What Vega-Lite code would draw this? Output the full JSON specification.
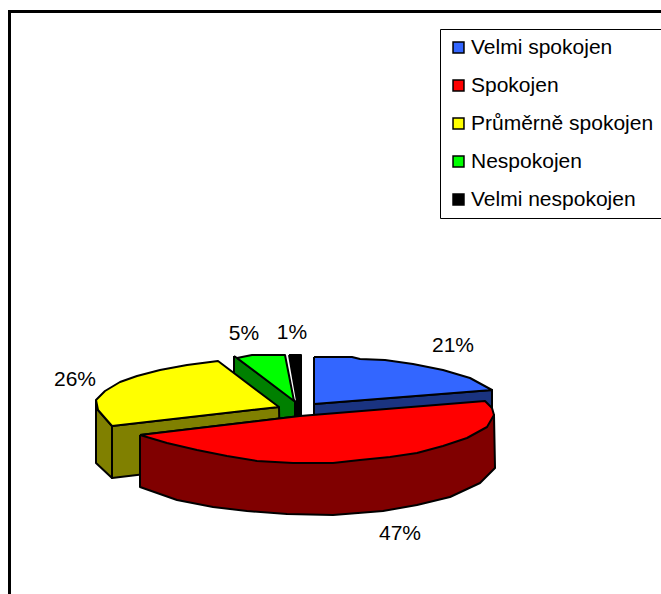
{"$schema":"https://vega.github.io/schema/vega-lite/v6.json","width":661,"height":594,"padding":0,"autosize":"none","background":"white","config":{"view":{"stroke":null},"axis":{"disable":true}},
"datasets":{
"frame":[{"seq":1,"x":9.5,"y":594},{"seq":2,"x":9.5,"y":11.5},{"seq":3,"x":661,"y":11.5}],
"labels":[{"slice":"Velmi spokojen","share":0.21,"x":453,"y":346},{"slice":"Spokojen","share":0.47,"x":400,"y":534},{"slice":"Průměrně spokojen","share":0.26,"x":75,"y":380},{"slice":"Nespokojen","share":0.05,"x":244,"y":334},{"slice":"Velmi nespokojen","share":0.01,"x":292,"y":333}],
"outline":[
{"slice":"Velmi nespokojen","face":"k-side","kind":"side","seq":1,"x":297,"y":401},{"slice":"Velmi nespokojen","face":"k-side","kind":"side","seq":2,"x":301,"y":401},{"slice":"Velmi nespokojen","face":"k-side","kind":"side","seq":3,"x":301,"y":417},{"slice":"Velmi nespokojen","face":"k-side","kind":"side","seq":4,"x":297,"y":417},{"slice":"Velmi nespokojen","face":"k-side","kind":"side","seq":5,"x":297,"y":401},
{"slice":"Nespokojen","face":"g-side","kind":"side","seq":1,"x":234,"y":356},{"slice":"Nespokojen","face":"g-side","kind":"side","seq":2,"x":237,"y":358},{"slice":"Nespokojen","face":"g-side","kind":"side","seq":3,"x":295,"y":401},{"slice":"Nespokojen","face":"g-side","kind":"side","seq":4,"x":295,"y":450},{"slice":"Nespokojen","face":"g-side","kind":"side","seq":5,"x":234,"y":410},{"slice":"Nespokojen","face":"g-side","kind":"side","seq":6,"x":234,"y":356},
{"slice":"Průměrně spokojen","face":"y-outer","kind":"side","seq":1,"x":96,"y":400},{"slice":"Průměrně spokojen","face":"y-outer","kind":"side","seq":2,"x":98,"y":410},{"slice":"Průměrně spokojen","face":"y-outer","kind":"side","seq":3,"x":112,"y":426},{"slice":"Průměrně spokojen","face":"y-outer","kind":"side","seq":4,"x":112,"y":478},{"slice":"Průměrně spokojen","face":"y-outer","kind":"side","seq":5,"x":96,"y":463},{"slice":"Průměrně spokojen","face":"y-outer","kind":"side","seq":6,"x":96,"y":400},
{"slice":"Průměrně spokojen","face":"y-cut","kind":"side","seq":1,"x":112,"y":426},{"slice":"Průměrně spokojen","face":"y-cut","kind":"side","seq":2,"x":279,"y":407},{"slice":"Průměrně spokojen","face":"y-cut","kind":"side","seq":3,"x":280,"y":458},{"slice":"Průměrně spokojen","face":"y-cut","kind":"side","seq":4,"x":112,"y":478},{"slice":"Průměrně spokojen","face":"y-cut","kind":"side","seq":5,"x":112,"y":426},
{"slice":"Velmi spokojen","face":"b-side","kind":"side","seq":1,"x":314,"y":404},{"slice":"Velmi spokojen","face":"b-side","kind":"side","seq":2,"x":492,"y":390},{"slice":"Velmi spokojen","face":"b-side","kind":"side","seq":3,"x":492,"y":440},{"slice":"Velmi spokojen","face":"b-side","kind":"side","seq":4,"x":314,"y":456},{"slice":"Velmi spokojen","face":"b-side","kind":"side","seq":5,"x":314,"y":404},
{"slice":"Spokojen","face":"r-side","kind":"side","seq":1,"x":140,"y":435},{"slice":"Spokojen","face":"r-side","kind":"side","seq":2,"x":300,"y":416},{"slice":"Spokojen","face":"r-side","kind":"side","seq":3,"x":494,"y":415},{"slice":"Spokojen","face":"r-side","kind":"side","seq":4,"x":495,"y":468},{"slice":"Spokojen","face":"r-side","kind":"side","seq":5,"x":480,"y":483},{"slice":"Spokojen","face":"r-side","kind":"side","seq":6,"x":450,"y":497},{"slice":"Spokojen","face":"r-side","kind":"side","seq":7,"x":417,"y":505},{"slice":"Spokojen","face":"r-side","kind":"side","seq":8,"x":383,"y":511},{"slice":"Spokojen","face":"r-side","kind":"side","seq":9,"x":333,"y":515},{"slice":"Spokojen","face":"r-side","kind":"side","seq":10,"x":287,"y":514},{"slice":"Spokojen","face":"r-side","kind":"side","seq":11,"x":247,"y":511},{"slice":"Spokojen","face":"r-side","kind":"side","seq":12,"x":213,"y":507},{"slice":"Spokojen","face":"r-side","kind":"side","seq":13,"x":177,"y":500},{"slice":"Spokojen","face":"r-side","kind":"side","seq":14,"x":140,"y":487},{"slice":"Spokojen","face":"r-side","kind":"side","seq":15,"x":140,"y":435},
{"slice":"Velmi nespokojen","face":"k-top","kind":"top","seq":1,"x":289,"y":355},{"slice":"Velmi nespokojen","face":"k-top","kind":"top","seq":2,"x":301,"y":355},{"slice":"Velmi nespokojen","face":"k-top","kind":"top","seq":3,"x":301,"y":401},{"slice":"Velmi nespokojen","face":"k-top","kind":"top","seq":4,"x":297,"y":401},{"slice":"Velmi nespokojen","face":"k-top","kind":"top","seq":5,"x":289,"y":355},
{"slice":"Nespokojen","face":"g-top","kind":"top","seq":1,"x":237,"y":358},{"slice":"Nespokojen","face":"g-top","kind":"top","seq":2,"x":252,"y":355},{"slice":"Nespokojen","face":"g-top","kind":"top","seq":3,"x":285,"y":355},{"slice":"Nespokojen","face":"g-top","kind":"top","seq":4,"x":294,"y":401},{"slice":"Nespokojen","face":"g-top","kind":"top","seq":5,"x":237,"y":358},
{"slice":"Průměrně spokojen","face":"y-top","kind":"top","seq":1,"x":279,"y":407},{"slice":"Průměrně spokojen","face":"y-top","kind":"top","seq":2,"x":218,"y":361},{"slice":"Průměrně spokojen","face":"y-top","kind":"top","seq":3,"x":187,"y":365},{"slice":"Průměrně spokojen","face":"y-top","kind":"top","seq":4,"x":160,"y":370},{"slice":"Průměrně spokojen","face":"y-top","kind":"top","seq":5,"x":137,"y":376},{"slice":"Průměrně spokojen","face":"y-top","kind":"top","seq":6,"x":120,"y":382},{"slice":"Průměrně spokojen","face":"y-top","kind":"top","seq":7,"x":105,"y":391},{"slice":"Průměrně spokojen","face":"y-top","kind":"top","seq":8,"x":96,"y":400},{"slice":"Průměrně spokojen","face":"y-top","kind":"top","seq":9,"x":98,"y":410},{"slice":"Průměrně spokojen","face":"y-top","kind":"top","seq":10,"x":112,"y":426},{"slice":"Průměrně spokojen","face":"y-top","kind":"top","seq":11,"x":279,"y":407},
{"slice":"Velmi spokojen","face":"b-top","kind":"top","seq":1,"x":314,"y":357},{"slice":"Velmi spokojen","face":"b-top","kind":"top","seq":2,"x":352,"y":357},{"slice":"Velmi spokojen","face":"b-top","kind":"top","seq":3,"x":360,"y":359},{"slice":"Velmi spokojen","face":"b-top","kind":"top","seq":4,"x":385,"y":360},{"slice":"Velmi spokojen","face":"b-top","kind":"top","seq":5,"x":413,"y":364},{"slice":"Velmi spokojen","face":"b-top","kind":"top","seq":6,"x":443,"y":370},{"slice":"Velmi spokojen","face":"b-top","kind":"top","seq":7,"x":470,"y":378},{"slice":"Velmi spokojen","face":"b-top","kind":"top","seq":8,"x":492,"y":390},{"slice":"Velmi spokojen","face":"b-top","kind":"top","seq":9,"x":314,"y":404},{"slice":"Velmi spokojen","face":"b-top","kind":"top","seq":10,"x":314,"y":357},
{"slice":"Spokojen","face":"r-top","kind":"top","seq":1,"x":140,"y":435},{"slice":"Spokojen","face":"r-top","kind":"top","seq":2,"x":300,"y":416},{"slice":"Spokojen","face":"r-top","kind":"top","seq":3,"x":485,"y":401},{"slice":"Spokojen","face":"r-top","kind":"top","seq":4,"x":492,"y":408},{"slice":"Spokojen","face":"r-top","kind":"top","seq":5,"x":494,"y":415},{"slice":"Spokojen","face":"r-top","kind":"top","seq":6,"x":487,"y":427},{"slice":"Spokojen","face":"r-top","kind":"top","seq":7,"x":467,"y":438},{"slice":"Spokojen","face":"r-top","kind":"top","seq":8,"x":443,"y":446},{"slice":"Spokojen","face":"r-top","kind":"top","seq":9,"x":417,"y":453},{"slice":"Spokojen","face":"r-top","kind":"top","seq":10,"x":390,"y":457},{"slice":"Spokojen","face":"r-top","kind":"top","seq":11,"x":360,"y":460},{"slice":"Spokojen","face":"r-top","kind":"top","seq":12,"x":333,"y":463},{"slice":"Spokojen","face":"r-top","kind":"top","seq":13,"x":293,"y":463},{"slice":"Spokojen","face":"r-top","kind":"top","seq":14,"x":257,"y":461},{"slice":"Spokojen","face":"r-top","kind":"top","seq":15,"x":227,"y":456},{"slice":"Spokojen","face":"r-top","kind":"top","seq":16,"x":197,"y":450},{"slice":"Spokojen","face":"r-top","kind":"top","seq":17,"x":167,"y":443},{"slice":"Spokojen","face":"r-top","kind":"top","seq":18,"x":140,"y":435}
]},
"encoding":{"x":{"field":"x","type":"quantitative","scale":{"domain":[0,661],"nice":false,"zero":false},"axis":null},"y":{"field":"y","type":"quantitative","scale":{"domain":[594,0],"nice":false,"zero":false},"axis":null}},
"layer":[
{"data":{"name":"frame"},"mark":{"type":"line","stroke":"black","strokeWidth":3,"strokeCap":"square"},"encoding":{"order":{"field":"seq","type":"quantitative"}}},
{"data":{"name":"outline"},"transform":[{"filter":"datum.kind=='side' && datum.slice!='Spokojen'"}],"mark":{"type":"line","stroke":"black","strokeWidth":2,"strokeJoin":"round"},"encoding":{"fill":{"field":"slice","type":"nominal","legend":null,"scale":{"domain":["Velmi spokojen","Spokojen","Průměrně spokojen","Nespokojen","Velmi nespokojen"],"range":["#1a3380","#800000","#808000","#008000","#000000"]}},"detail":{"field":"face"},"order":{"field":"seq","type":"quantitative"}}},
{"data":{"name":"outline"},"transform":[{"filter":"datum.kind=='top' && datum.slice!='Spokojen'"}],"mark":{"type":"line","stroke":"black","strokeWidth":2,"strokeJoin":"round"},"encoding":{"fill":{"field":"slice","type":"nominal","scale":{"domain":["Velmi spokojen","Spokojen","Průměrně spokojen","Nespokojen","Velmi nespokojen"],"range":["#3366ff","#ff0000","#ffff00","#00ff00","#000000"]},"legend":{"title":null,"orient":"none","legendX":440,"legendY":29,"padding":8,"strokeColor":"black","fillColor":"white","symbolType":"square","symbolSize":120,"symbolStrokeColor":"black","symbolStrokeWidth":1.5,"labelFont":"Liberation Sans","labelFontSize":21,"labelColor":"black","labelLimit":300,"rowPadding":16,"labelOffset":2}},"detail":{"field":"face"},"order":{"field":"seq","type":"quantitative"}}},
{"data":{"name":"outline"},"transform":[{"filter":"datum.kind=='side' && datum.slice=='Spokojen'"}],"mark":{"type":"line","stroke":"black","strokeWidth":2,"strokeJoin":"round"},"encoding":{"fill":{"field":"slice","type":"nominal","legend":null,"scale":{"domain":["Spokojen"],"range":["#800000"]}},"detail":{"field":"face"},"order":{"field":"seq","type":"quantitative"}}},
{"data":{"name":"outline"},"transform":[{"filter":"datum.kind=='top' && datum.slice=='Spokojen'"}],"mark":{"type":"line","stroke":"black","strokeWidth":2,"strokeJoin":"round"},"encoding":{"fill":{"field":"slice","type":"nominal","legend":null,"scale":{"domain":["Spokojen"],"range":["#ff0000"]}},"detail":{"field":"face"},"order":{"field":"seq","type":"quantitative"}}},
{"data":{"name":"labels"},"mark":{"type":"text","font":"Liberation Sans","fontSize":21,"color":"black","align":"center","baseline":"middle"},"encoding":{"text":{"field":"share","type":"quantitative","format":".0%"}}}
],
"resolve":{"scale":{"fill":"independent"}}}
